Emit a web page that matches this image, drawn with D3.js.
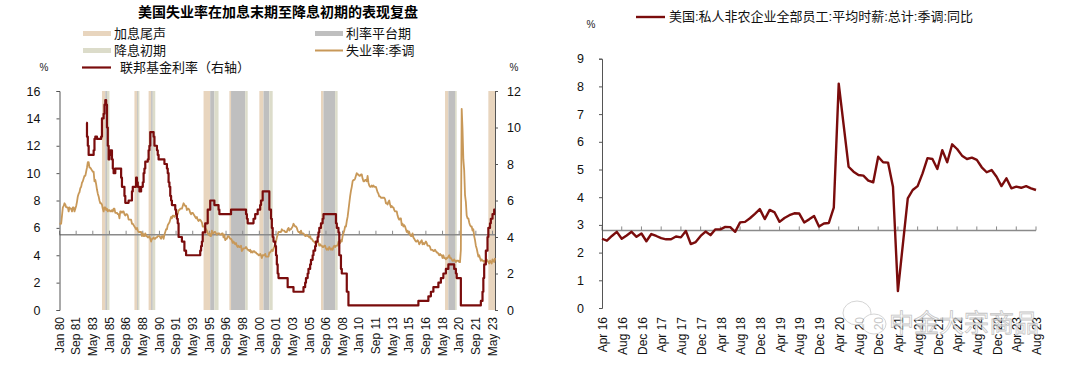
<!DOCTYPE html>
<html><head><meta charset="utf-8">
<script src="https://cdn.jsdelivr.net/npm/d3@7"></script>
<style>
html,body{margin:0;padding:0;background:#fff;}
svg{display:block;font-family:"Liberation Sans","Noto Sans CJK SC",Arial,sans-serif;}
</style></head>
<body><svg id="c" width="1080" height="368"></svg>
<script>
// ---------- DATA: left chart ----------
const leftTitle = "美国失业率在加息末期至降息初期的表现复盘";
const unempStart = "1980-01";
// US unemployment rate, seasonally adjusted, monthly Jan 1980 - Aug 2023
const unemployment = [
6.3,6.3,6.3,6.9,7.5,7.6,7.8,7.7,7.5,7.5,7.5,7.2,
7.5,7.4,7.4,7.2,7.5,7.5,7.2,7.4,7.6,7.9,8.3,8.5,
8.6,8.9,9.0,9.3,9.4,9.6,9.8,9.8,10.1,10.4,10.8,10.8,
10.4,10.4,10.3,10.2,10.1,10.1,9.4,9.5,9.2,8.8,8.5,8.3,
8.0,7.8,7.8,7.7,7.4,7.2,7.5,7.5,7.3,7.4,7.2,7.3,
7.3,7.2,7.2,7.3,7.2,7.4,7.4,7.1,7.1,7.1,7.0,7.0,
6.7,7.2,7.2,7.1,7.2,7.2,7.0,6.9,7.0,7.0,6.9,6.6,
6.6,6.6,6.6,6.3,6.3,6.2,6.1,6.0,5.9,6.0,5.8,5.7,
5.7,5.7,5.7,5.4,5.6,5.4,5.4,5.6,5.4,5.4,5.3,5.3,
5.4,5.2,5.0,5.2,5.2,5.3,5.2,5.2,5.3,5.3,5.4,5.4,
5.4,5.3,5.2,5.4,5.4,5.2,5.5,5.7,5.9,5.9,6.2,6.3,
6.4,6.6,6.8,6.7,6.9,6.9,6.8,6.9,6.9,7.0,7.0,7.3,
7.3,7.4,7.4,7.4,7.6,7.8,7.7,7.6,7.6,7.3,7.4,7.4,
7.3,7.1,7.0,7.1,7.1,7.0,6.9,6.8,6.7,6.8,6.6,6.5,
6.6,6.6,6.5,6.4,6.1,6.1,6.1,6.0,5.9,5.8,5.6,5.5,
5.6,5.4,5.4,5.8,5.6,5.6,5.7,5.7,5.6,5.5,5.6,5.6,
5.6,5.5,5.5,5.6,5.6,5.3,5.5,5.1,5.2,5.2,5.4,5.4,
5.3,5.2,5.2,5.1,4.9,5.0,4.9,4.8,4.9,4.7,4.6,4.7,
4.6,4.6,4.7,4.3,4.4,4.5,4.5,4.5,4.6,4.5,4.4,4.4,
4.3,4.4,4.2,4.3,4.2,4.3,4.3,4.2,4.2,4.1,4.1,4.0,
4.0,4.1,4.0,3.8,4.0,4.0,4.0,4.1,3.9,3.9,3.9,3.9,
4.2,4.2,4.3,4.4,4.3,4.5,4.6,4.9,5.0,5.3,5.5,5.7,
5.7,5.7,5.7,5.9,5.8,5.8,5.8,5.7,5.7,5.7,5.9,6.0,
5.8,5.9,5.9,6.0,6.1,6.3,6.2,6.1,6.1,6.0,5.8,5.7,
5.7,5.6,5.8,5.6,5.6,5.6,5.5,5.4,5.4,5.5,5.4,5.4,
5.3,5.4,5.2,5.2,5.1,5.0,5.0,4.9,5.0,5.0,5.0,4.9,
4.7,4.8,4.7,4.7,4.6,4.6,4.7,4.7,4.5,4.4,4.5,4.4,
4.6,4.5,4.4,4.5,4.4,4.6,4.7,4.6,4.7,4.7,4.7,5.0,
5.0,4.9,5.1,5.0,5.4,5.6,5.8,6.1,6.1,6.5,6.8,7.3,
7.8,8.3,8.7,9.0,9.4,9.5,9.5,9.6,9.8,10.0,9.9,9.9,
9.8,9.8,9.9,9.9,9.6,9.4,9.4,9.5,9.5,9.4,9.8,9.3,
9.1,9.0,9.0,9.1,9.0,9.1,9.0,9.0,9.0,8.8,8.6,8.5,
8.3,8.3,8.2,8.2,8.2,8.2,8.2,8.1,7.8,7.8,7.7,7.9,
8.0,7.7,7.5,7.6,7.5,7.5,7.3,7.2,7.2,7.2,6.9,6.7,
6.6,6.7,6.7,6.2,6.3,6.1,6.2,6.1,5.9,5.7,5.8,5.6,
5.7,5.5,5.4,5.4,5.6,5.3,5.2,5.1,5.0,5.0,5.1,5.0,
4.8,4.9,5.0,5.1,4.8,4.9,4.8,4.9,5.0,4.9,4.7,4.7,
4.7,4.6,4.4,4.4,4.4,4.3,4.3,4.4,4.3,4.2,4.2,4.1,
4.0,4.1,4.0,4.0,3.8,4.0,3.8,3.8,3.7,3.8,3.8,3.9,
4.0,3.8,3.8,3.7,3.6,3.6,3.7,3.6,3.5,3.6,3.6,3.6,
3.5,3.5,4.4,14.7,13.2,11.0,10.2,8.4,7.9,6.9,6.7,6.7,
6.4,6.2,6.1,6.1,5.8,5.9,5.4,5.1,4.7,4.5,4.2,3.9,
4.0,3.8,3.6,3.7,3.6,3.6,3.5,3.6,3.5,3.7,3.6,3.5,
3.4,3.6,3.5,3.4,3.7,3.6,3.5,3.8
];
// Fed funds target rate (upper bound), month of each level change
const fedMonths = ["1982-09","1982-10","1982-11","1982-12","1983-06","1983-07","1983-08","1983-10","1984-03","1984-04","1984-06","1984-07","1984-08","1984-09","1984-10","1984-11","1984-12","1985-01","1985-02","1985-04","1985-05","1985-06","1985-08","1985-12","1986-03","1986-04","1986-07","1986-08","1986-12","1987-04","1987-05","1987-09","1987-10","1987-11","1988-01","1988-03","1988-05","1988-06","1988-07","1988-08","1988-11","1988-12","1989-01","1989-02","1989-06","1989-07","1989-10","1989-11","1989-12","1990-07","1990-10","1990-11","1990-12","1991-01","1991-02","1991-03","1991-04","1991-08","1991-09","1991-10","1991-11","1991-12","1992-04","1992-07","1992-09","1994-02","1994-03","1994-04","1994-05","1994-08","1994-11","1995-02","1995-07","1995-12","1996-01","1997-03","1998-09","1998-10","1998-11","1999-06","1999-08","1999-11","2000-02","2000-03","2000-05","2001-01","2001-03","2001-04","2001-05","2001-06","2001-08","2001-09","2001-10","2001-11","2001-12","2002-11","2003-06","2004-06","2004-08","2004-09","2004-11","2004-12","2005-02","2005-03","2005-05","2005-06","2005-08","2005-09","2005-11","2005-12","2006-01","2006-03","2006-05","2006-06","2007-09","2007-10","2007-12","2008-01","2008-03","2008-04","2008-10","2008-12","2015-12","2016-12","2017-03","2017-06","2017-12","2018-03","2018-06","2018-09","2018-12","2019-07","2019-09","2019-10","2020-03","2022-03","2022-05","2022-06","2022-07","2022-09","2022-11","2022-12","2023-02","2023-03","2023-05","2023-07","2023-08"];
const fedRates = [10.25,9.5,9.0,8.5,8.75,9.375,9.5,9.375,9.5,10.5,10.75,11.25,11.5,11.25,10.0,9.0,8.25,8.5,8.75,8.25,7.75,7.5,7.75,7.75,7.25,6.75,6.25,5.875,6.0,6.5,6.75,7.25,7.0,6.75,6.5,6.75,7.0,7.5,7.75,8.125,8.25,8.75,9.0,9.75,9.5,9.0,8.75,8.5,8.25,8.0,7.75,7.5,7.0,6.75,6.25,6.0,5.75,5.5,5.25,5.0,4.75,4.0,3.75,3.25,3.0,3.25,3.5,3.75,4.25,4.75,5.5,6.0,5.75,5.5,5.25,5.5,5.25,5.0,4.75,5.0,5.25,5.5,5.75,6.0,6.5,5.5,5.0,4.5,4.0,3.75,3.5,3.0,2.5,2.0,1.75,1.25,1.0,1.25,1.5,1.75,2.0,2.25,2.5,2.75,3.0,3.25,3.5,3.75,4.0,4.25,4.5,4.75,5.0,5.25,4.75,4.5,4.25,3.0,2.25,2.0,1.0,0.25,0.5,0.75,1.0,1.25,1.5,1.75,2.0,2.25,2.5,2.25,2.0,1.75,0.25,0.5,1.0,1.75,2.5,3.25,4.0,4.5,4.75,5.0,5.25,5.5,5.5];
// shaded periods
const hikeEndPeriods = [["1984-04","1984-08"],["1987-07","1987-10"],["1988-12","1989-03"],["1994-06","1995-02"],["1997-01","1997-03"],["2000-01","2000-06"],["2006-03","2006-06"],["2018-08","2018-12"],["2022-12","2023-08"]];
const plateauPeriods = [["1984-08","1984-10"],["1987-10","1987-11"],["1989-03","1989-05"],["1995-02","1995-07"],["1997-03","1998-08"],["2000-06","2001-01"],["2006-06","2007-08"],["2018-12","2019-08"]];
const earlyCutPeriods = [["1984-10","1985-01"],["1987-11","1988-01"],["1989-05","1989-08"],["1995-07","1995-12"],["1998-08","1998-11"],["2001-01","2001-05"],["2007-08","2007-11"],["2019-08","2019-10"]];
const leftTicksY = [0,2,4,6,8,10,12,14,16];
const rightTicksY = [0,2,4,6,8,10,12];
const leftXLabels = ["Jan 80","Sep 81","May 83","Jan 85","Sep 86","May 88","Jan 90","Sep 91","May 93","Jan 95","Sep 96","May 98","Jan 00","Sep 01","May 03","Jan 05","Sep 06","May 08","Jan 10","Sep 11","May 13","Jan 15","Sep 16","May 18","Jan 20","Sep 21","May 23"];
const leftLegend = ["加息尾声","利率平台期","降息初期","失业率:季调","联邦基金利率（右轴）"];

// ---------- DATA: right chart ----------
const wageName = "美国:私人非农企业全部员工:平均时薪:总计:季调:同比";
const wageStart = "2016-04";
const wageGrowth = [2.5,2.43,2.6,2.75,2.5,2.62,2.75,2.57,2.69,2.41,2.67,2.6,2.52,2.48,2.48,2.58,2.55,2.78,2.31,2.38,2.6,2.76,2.63,2.84,2.84,2.93,2.92,2.75,3.09,3.11,3.24,3.4,3.57,3.21,3.54,3.45,3.11,3.25,3.35,3.42,3.41,3.09,3.2,3.32,2.94,3.05,3.07,3.62,8.1,6.6,5.1,4.92,4.8,4.78,4.6,4.54,5.46,5.26,5.25,4.38,0.61,2.29,3.96,4.26,4.4,4.86,5.41,5.38,5.02,5.7,5.26,5.91,5.74,5.5,5.38,5.43,5.35,5.08,4.9,4.98,4.74,4.4,4.68,4.32,4.38,4.34,4.4,4.32,4.26];
const wageTicksY = [0,1,2,3,4,5,6,7,8,9];
const wageXLabels = ["Apr 16","Aug 16","Dec 16","Apr 17","Aug 17","Dec 17","Apr 18","Aug 18","Dec 18","Apr 19","Aug 19","Dec 19","Apr 20","Aug 20","Dec 20","Apr 21","Aug 21","Dec 21","Apr 22","Aug 22","Dec 22","Apr 23","Aug 23"];
const watermark = "中金大宗商品";

// ---------- helpers ----------
const mi = (s, base) => { const [y,m] = s.split("-").map(Number); const [by,bm] = base.split("-").map(Number); return (y-by)*12 + (m-bm); };
const svg = d3.select("#c");
const C = {tan:"#E8D5BE", gray:"#BFBFBF", olive:"#DCDCCA", unemp:"#C89858", fed:"#7A0C0C", axis:"#555", xaxis:"#8a8a8a"};
const numFont = 12;

// ================= LEFT CHART =================
const nL = unemployment.length;
const xL = d3.scaleLinear().domain([0, nL-1]).range([59.5, 495]);
const yL = d3.scaleLinear().domain([0,16]).range([310, 91]);
const yR = d3.scaleLinear().domain([0,12]).range([310, 91]);

// bands
const bandG = svg.append("g");
[[hikeEndPeriods,C.tan],[plateauPeriods,C.gray],[earlyCutPeriods,C.olive]].forEach(([arr,col])=>{
  bandG.selectAll(null).data(arr).enter().append("rect")
    .attr("x", d=>xL(mi(d[0],unempStart)))
    .attr("width", d=>Math.max(1, xL(Math.min(mi(d[1],unempStart), nL-1)) - xL(mi(d[0],unempStart))))
    .attr("y", yL(16)).attr("height", yL(0)-yL(16)).attr("fill", col);
});

// x axis line at 5.5
const xAxisY = yL(5.5);
svg.append("line").attr("x1",xL(0)).attr("x2",xL(nL-1)).attr("y1",xAxisY).attr("y2",xAxisY).attr("stroke",C.xaxis).attr("stroke-width",1.5);
svg.append("g").selectAll("line").data(d3.range(0, nL, 20)).enter().append("line")
  .attr("x1",d=>xL(d)).attr("x2",d=>xL(d)).attr("y1",xAxisY).attr("y2",xAxisY-4).attr("stroke",C.xaxis).attr("stroke-width",1);
svg.append("g").selectAll("text").data(leftXLabels).enter().append("text")
  .attr("transform",(d,i)=>`translate(${xL(i*20)},317) rotate(-90)`)
  .attr("text-anchor","end").attr("dy","0.35em").attr("font-size",numFont).attr("fill","#111").text(d=>d);

// y axes
const axL = svg.append("g").attr("transform",`translate(${xL(0)},0)`)
  .call(d3.axisLeft(yL).tickValues(leftTicksY).tickSize(3).tickPadding(16).tickFormat(d3.format("d")));
const axR = svg.append("g").attr("transform",`translate(${xL(nL-1)},0)`)
  .call(d3.axisRight(yR).tickValues(rightTicksY).tickSize(3).tickPadding(9).tickFormat(d3.format("d")));
[axL,axR].forEach(a=>{ a.select(".domain").attr("stroke",C.axis); a.selectAll(".tick line").attr("stroke",C.axis);
  a.selectAll("text").attr("font-size",numFont+0.5).attr("fill","#111").attr("font-family","Liberation Sans, Arial, sans-serif"); });

// lines
svg.append("path").datum(unemployment)
  .attr("d", d3.line().x((d,i)=>xL(i)).y(d=>yL(d)))
  .attr("fill","none").attr("stroke",C.unemp).attr("stroke-width",1.8).attr("stroke-linejoin","round");
const fedPts = fedMonths.map((m,i)=>[mi(m,unempStart), fedRates[i]]);
svg.append("path").datum(fedPts)
  .attr("d", d3.line().x(d=>xL(d[0])).y(d=>yR(d[1])).curve(d3.curveStepAfter))
  .attr("fill","none").attr("stroke",C.fed).attr("stroke-width",2.2).attr("stroke-linejoin","round");

// title & legend
svg.append("text").attr("x",278).attr("y",12).attr("dy","0.35em").attr("text-anchor","middle")
  .attr("font-size",14).attr("font-weight","bold").attr("fill","#000").text(leftTitle);
const lg = svg.append("g").attr("font-size",13).attr("fill","#111");
lg.append("rect").attr("x",83).attr("y",31).attr("width",28).attr("height",5).attr("fill",C.tan);
lg.append("text").attr("x",114).attr("y",33).attr("dy","0.35em").text(leftLegend[0]);
lg.append("rect").attr("x",315).attr("y",31).attr("width",28).attr("height",5).attr("fill",C.gray);
lg.append("text").attr("x",346).attr("y",33).attr("dy","0.35em").text(leftLegend[1]);
lg.append("rect").attr("x",83).attr("y",48).attr("width",28).attr("height",5).attr("fill",C.olive);
lg.append("text").attr("x",114).attr("y",50).attr("dy","0.35em").text(leftLegend[2]);
lg.append("line").attr("x1",315).attr("x2",343).attr("y1",50.5).attr("y2",50.5).attr("stroke",C.unemp).attr("stroke-width",2);
lg.append("text").attr("x",346).attr("y",50).attr("dy","0.35em").text(leftLegend[3]);
lg.append("line").attr("x1",82).attr("x2",111).attr("y1",67.5).attr("y2",67.5).attr("stroke",C.fed).attr("stroke-width",2.2);
lg.append("text").attr("x",120).attr("y",67).attr("dy","0.35em").text(leftLegend[4]);
svg.append("text").attr("x",44).attr("y",71).attr("text-anchor","middle").attr("font-size",10).attr("fill","#222").text("%");
svg.append("text").attr("x",514).attr("y",71).attr("text-anchor","middle").attr("font-size",10).attr("fill","#222").text("%");

// ================= RIGHT CHART =================
const nW = wageGrowth.length;
const xW = d3.scaleLinear().domain([0, nW-1]).range([602, 1036]);
const yW = d3.scaleLinear().domain([0,9]).range([308, 58.7]);
const wAxisY = yW(2.8);
svg.append("line").attr("x1",xW(0)).attr("x2",xW(nW-1)).attr("y1",wAxisY).attr("y2",wAxisY).attr("stroke",C.xaxis).attr("stroke-width",1.5);
svg.append("g").selectAll("line").data(d3.range(0, nW, 4)).enter().append("line")
  .attr("x1",d=>xW(d)).attr("x2",d=>xW(d)).attr("y1",wAxisY).attr("y2",wAxisY-4).attr("stroke",C.xaxis);
svg.append("g").selectAll("text").data(wageXLabels).enter().append("text")
  .attr("transform",(d,i)=>`translate(${xW(i*4)+1},317) rotate(-90)`)
  .attr("text-anchor","end").attr("dy","0.35em").attr("font-size",numFont).attr("fill","#111").text(d=>d);
const axW = svg.append("g").attr("transform",`translate(${xW(0)},0)`)
  .call(d3.axisLeft(yW).tickValues(wageTicksY).tickSize(3).tickPadding(15).tickFormat(d3.format("d")));
axW.select(".domain").attr("stroke",C.axis); axW.selectAll(".tick line").attr("stroke",C.axis);
axW.selectAll("text").attr("font-size",numFont+0.5).attr("fill","#111");

svg.append("path").datum(wageGrowth)
  .attr("d", d3.line().x((d,i)=>xW(i)).y(d=>yW(d)))
  .attr("fill","none").attr("stroke",C.fed).attr("stroke-width",2.4).attr("stroke-linejoin","round");

svg.append("line").attr("x1",636).attr("x2",665).attr("y1",17).attr("y2",17).attr("stroke",C.fed).attr("stroke-width",2.4);
svg.append("text").attr("x",669).attr("y",16.5).attr("dy","0.35em").attr("font-size",13).attr("fill","#111").text(wageName);
svg.append("text").attr("x",591).attr("y",28).attr("text-anchor","middle").attr("font-size",10).attr("fill","#222").text("%");

// watermark
const wm = svg.append("g").attr("opacity",0.75);
wm.append("ellipse").attr("cx",857).attr("cy",313).attr("rx",14).attr("ry",12).attr("fill","#fff").attr("stroke","#c8c8c8");
wm.append("ellipse").attr("cx",874).attr("cy",324).attr("rx",12).attr("ry",10).attr("fill","#fff").attr("stroke","#c8c8c8");
wm.append("text").attr("x",889).attr("y",323).attr("dy","0.35em").attr("font-size",25).attr("fill","#fff")
  .attr("stroke","#b0b0b0").attr("stroke-width",0.8).attr("font-family","Noto Sans CJK SC").text(watermark);
</script></body></html>
